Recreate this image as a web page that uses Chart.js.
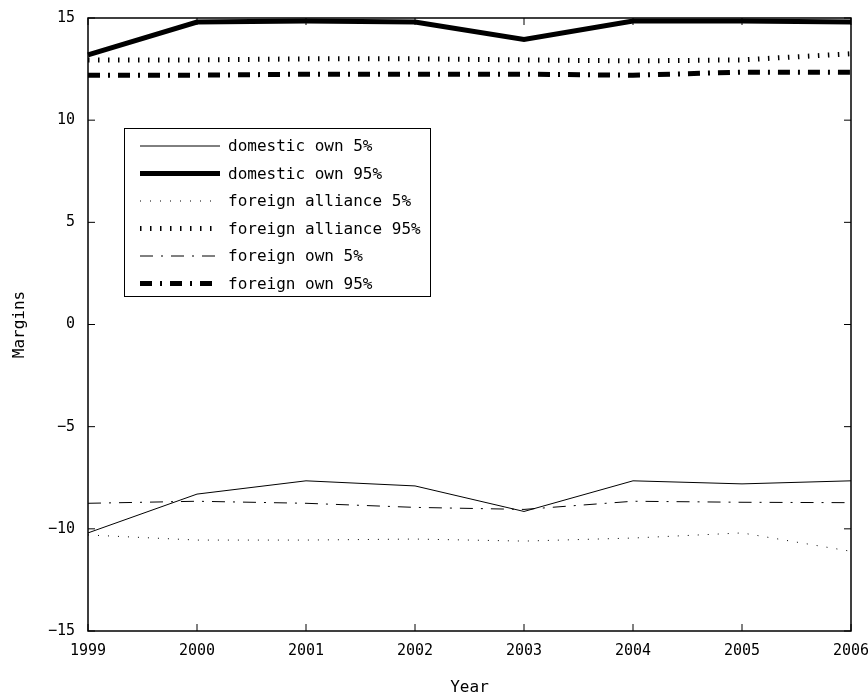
<!DOCTYPE html>
<html>
<head>
<meta charset="utf-8">
<script src="https://cdn.jsdelivr.net/npm/chart.js@4"></script>
<style>
  html, body { margin: 0; padding: 0; background: #fff; }
  #wrap { width: 868px; height: 700px; }
</style>
</head>
<body>
<div id="wrap"><canvas id="c" width="868" height="700"></canvas></div>
<script>
// years on the x axis
const years = ['1999', '2000', '2001', '2002', '2003', '2004', '2005', '2006'];
// y tick labels (bottom to top)
const yTickLabels = ['\u221215', '\u221210', '\u22125', '0', '5', '10', '15'];

// series
const domesticOwn5 = [-10.2, -8.3, -7.65, -7.9, -9.15, -7.65, -7.8, -7.65];
const domesticOwn95 = [13.2, 14.8, 14.85, 14.8, 13.95, 14.85, 14.85, 14.8];
const foreignAlliance5 = [-10.3, -10.55, -10.55, -10.5, -10.6, -10.45, -10.2, -11.1];
const foreignAlliance95 = [12.95, 12.95, 13.0, 13.0, 12.95, 12.9, 12.95, 13.25];
const foreignOwn5 = [-8.75, -8.65, -8.75, -8.95, -9.05, -8.65, -8.7, -8.72];
const foreignOwn95 = [12.2, 12.2, 12.25, 12.25, 12.25, 12.2, 12.35, 12.35];

const mono = '"DejaVu Sans Mono", "Liberation Mono", monospace';

function ds(label, data, width, dash) {
  return { label, data, borderColor: '#000', backgroundColor: '#000', borderWidth: width,
           borderDash: dash, borderCapStyle: 'butt', pointRadius: 0, tension: 0, fill: false };
}

// box around the plot with inward ticks on all four sides
const boxTicks = {
  id: 'boxTicks',
  afterDatasetsDraw(chart) {
    const { ctx, chartArea: a, scales: { x, y } } = chart;
    const len = 7;
    ctx.save();
    ctx.strokeStyle = '#000'; ctx.lineWidth = 1.5; ctx.setLineDash([]);
    ctx.strokeRect(a.left, a.top, a.right - a.left, a.bottom - a.top);
    ctx.lineWidth = 1;
    ctx.beginPath();
    x.ticks.forEach((t, i) => {
      const px = x.getPixelForTick(i);
      ctx.moveTo(px, a.bottom); ctx.lineTo(px, a.bottom - len);
      ctx.moveTo(px, a.top); ctx.lineTo(px, a.top + len);
    });
    y.ticks.forEach(t => {
      const py = y.getPixelForValue(t.value);
      ctx.moveTo(a.left, py); ctx.lineTo(a.left + len, py);
      ctx.moveTo(a.right, py); ctx.lineTo(a.right - len, py);
    });
    ctx.stroke();
    ctx.restore();
  }
};

// legend box inside the plot, upper left
const boxLegend = {
  id: 'boxLegend',
  afterDraw(chart) {
    const { ctx, chartArea: a } = chart;
    const bx = a.left + 36, by = a.top + 110, bw = 306, bh = 168;
    ctx.save();
    ctx.fillStyle = '#fff';
    ctx.fillRect(bx, by, bw, bh);
    ctx.strokeStyle = '#000'; ctx.lineWidth = 1; ctx.setLineDash([]);
    ctx.strokeRect(bx + 0.5, by + 0.5, bw, bh);
    ctx.font = '16px ' + mono;
    ctx.textBaseline = 'middle';
    ctx.fillStyle = '#000';
    chart.data.datasets.forEach((d, i) => {
      const ry = by + 18 + i * 27.5;
      ctx.beginPath();
      ctx.lineWidth = d.borderWidth;
      ctx.lineCap = 'butt';
      ctx.setLineDash(d.borderDash || []);
      ctx.moveTo(bx + 16, ry); ctx.lineTo(bx + 96, ry);
      ctx.stroke();
      ctx.setLineDash([]);
      ctx.fillText(d.label, bx + 104, ry + 1);
    });
    ctx.restore();
  }
};

new Chart(document.getElementById('c').getContext('2d'), {
  type: 'line',
  data: {
    labels: years,
    datasets: [
      ds('domestic own 5%', domesticOwn5, 1, []),
      ds('domestic own 95%', domesticOwn95, 5, []),
      ds('foreign alliance 5%', foreignAlliance5, 1, [1, 9]),
      ds('foreign alliance 95%', foreignAlliance95, 5, [1.5, 8.5]),
      ds('foreign own 5%', foreignOwn5, 1, [13, 8, 2, 8]),
      ds('foreign own 95%', foreignOwn95, 5, [12, 8, 2, 8])
    ]
  },
  options: {
    responsive: false,
    animation: false,
    layout: { padding: { top: 18, right: 17, left: 0, bottom: 0 } },
    plugins: { legend: { display: false }, tooltip: { enabled: false } },
    scales: {
      x: {
        type: 'category',
        offset: false,
        grid: { display: false, drawTicks: false },
        border: { display: false },
        ticks: { color: '#000', font: { family: mono, size: 15 }, padding: 11, maxRotation: 0, autoSkip: false },
        title: { display: true, text: 'Year', color: '#000', font: { family: mono, size: 16 }, padding: { top: 3, bottom: 3 } },
        afterFit(s) { s.height = 69; s.paddingLeft = 0; s.paddingRight = 0; }
      },
      y: {
        min: -15, max: 15,
        grid: { display: false, drawTicks: false },
        border: { display: false },
        ticks: {
          stepSize: 5, color: '#000', font: { family: mono, size: 15 }, padding: 13,
          callback: (v, i) => yTickLabels[i]
        },
        title: { display: true, text: 'Margins', color: '#000', font: { family: mono, size: 16 }, padding: { top: 10, bottom: 2 } },
        afterFit(s) { s.width = 88; s.paddingTop = 0; s.paddingBottom = 0; }
      }
    }
  },
  plugins: [boxTicks, boxLegend]
});
</script>
</body>
</html>
